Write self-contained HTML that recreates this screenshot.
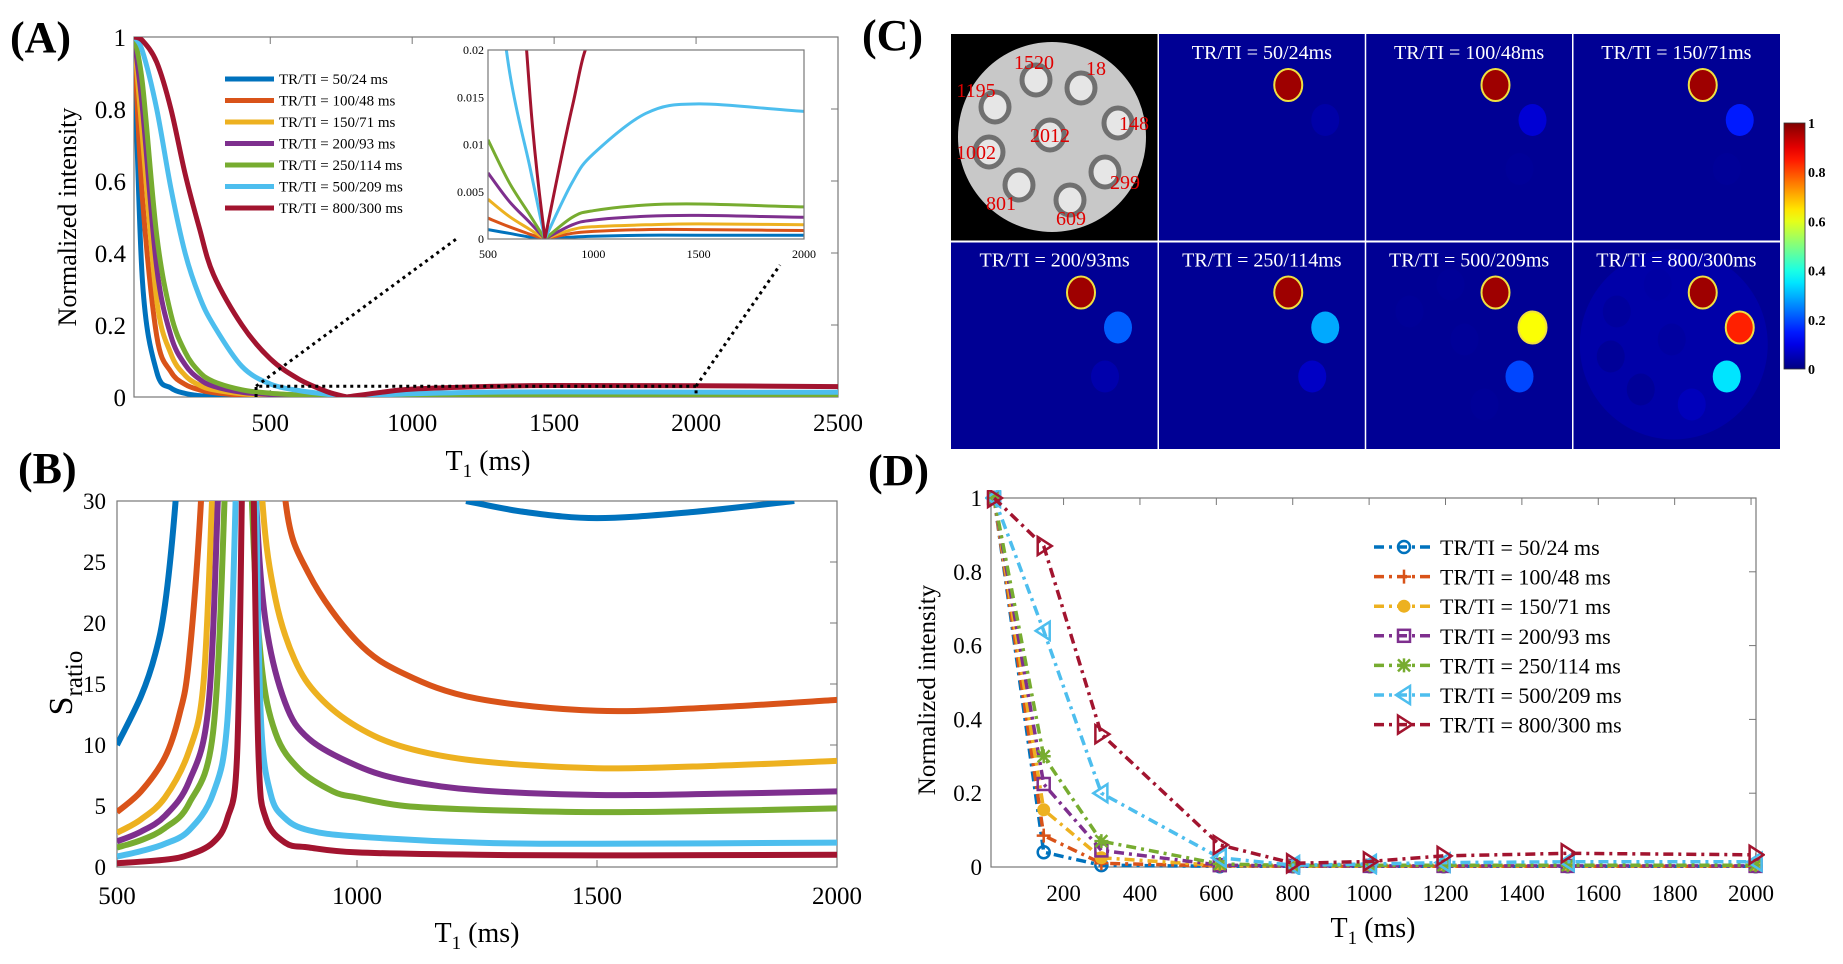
<!DOCTYPE html>
<html><head><meta charset="utf-8">
<style>
html,body{margin:0;padding:0;background:#fff;}
svg, svg text{font-family:"Liberation Serif","Times New Roman",serif;}
</style></head>
<body>
<svg id="fig" width="1843" height="959" viewBox="0 0 1843 959" font-family="Liberation Serif, serif" xmlns="http://www.w3.org/2000/svg">
<defs>
<clipPath id="clipA"><rect x="134" y="37" width="704" height="360"/></clipPath>
<clipPath id="clipIn"><rect x="488" y="50" width="316" height="189"/></clipPath>
<clipPath id="clipB"><rect x="117" y="501" width="720" height="366"/></clipPath>
<clipPath id="clipD"><rect x="985" y="490" width="780" height="385"/></clipPath>
</defs>
</svg>
<script>
// ---------- data ----------
const seriesNames = ["TR/TI = 50/24 ms","TR/TI = 100/48 ms","TR/TI = 150/71 ms","TR/TI = 200/93 ms","TR/TI = 250/114 ms","TR/TI = 500/209 ms","TR/TI = 800/300 ms"];
const seriesColors = ["#0072BD","#D95319","#EDB120","#7E2F8E","#77AC30","#4DBEEE","#A2142F"];
// Panel A (simulated curves)
const aT1 = [20,50,100,150,200,250,300,400,500,600,700,770,900,1000,1250,1500,2000,2500];
const aBlue   = [1,0.32,0.07,0.025,0.01,0.004,0.002,0.0012,0.001,0.0006,0.0002,0,0.0002,0.0003,0.0004,0.0004,0.0004,0.0004];
const aOrange = [1,0.55,0.17,0.07,0.035,0.02,0.012,0.005,0.0022,0.0013,0.0005,0,0.0006,0.0008,0.001,0.001,0.0009,0.0009];
const aYellow = [1,0.72,0.27,0.12,0.06,0.033,0.02,0.009,0.0042,0.0024,0.001,0,0.001,0.0013,0.0015,0.0016,0.0015,0.0014];
const aPurple = [1,0.8,0.36,0.17,0.09,0.05,0.03,0.013,0.007,0.004,0.0017,0,0.0015,0.002,0.0024,0.0025,0.0023,0.0022];
const aGreen  = [1,0.87,0.45,0.23,0.125,0.07,0.043,0.02,0.0105,0.006,0.0025,0,0.0023,0.003,0.0036,0.0037,0.0034,0.0032];
const aCyan   = [1,0.96,0.8,0.58,0.4,0.28,0.2,0.085,0.036,0.018,0.0075,0,0.006,0.009,0.0133,0.0143,0.0135,0.013];
const aRed    = [1,0.99,0.93,0.8,0.62,0.47,0.34,0.2,0.106,0.05,0.015,0,0.014,0.022,0.029,0.032,0.031,0.029];
const aSeries = [aBlue,aOrange,aYellow,aPurple,aGreen,aCyan,aRed];
const aXTicks = [500,1000,1500,2000,2500];
const aYTicks = [0,0.2,0.4,0.6,0.8,1];
const inXTicks = [500,1000,1500,2000];
const inYTicks = [0,0.005,0.01,0.015,0.02];
// Panel B (S_ratio), each branch: x and y arrays
const bBlueX1 = [500,550,580,600,620,640], bBlueY1 = [10,14,17.5,21.5,29,40];
const bBlueX2 = [1227,1350,1500,1700,1911], bBlueY2 = [30,29.1,28.6,29.1,30];
const bOrangeX1 = [500,550,600,630,650,675,690], bOrangeY1 = [4.5,6.2,9,12.5,17,30,45];
const bOrangeX2 = [835,851,900,1000,1100,1250,1500,1750,2000], bOrangeY2 = [45,30,24,18.5,15.8,13.8,12.8,13.1,13.7];
const bYellowX1 = [500,550,600,650,680,698,710], bYellowY1 = [2.8,3.9,5.7,9.5,15,30,45];
const bYellowX2 = [790,803,830,870,920,1000,1100,1250,1500,1750,2000], bYellowY2 = [45,30,22,17,14,11.5,9.8,8.7,8.1,8.3,8.7];
const bPurpleX1 = [500,550,600,650,690,710,720], bPurpleY1 = [2.1,2.9,4.2,7,13,30,45];
const bPurpleX2 = [780,790,810,850,900,1000,1100,1250,1500,1750,2000], bPurpleY2 = [45,30,20,13.5,10.5,8.3,7.1,6.3,5.9,6.0,6.2];
const bGreenX1 = [500,550,600,650,700,724,732], bGreenY1 = [1.6,2.2,3.2,5.2,11,30,45];
const bGreenX2 = [773,781,800,830,880,950,1000,1100,1250,1500,1750,2000], bGreenY2 = [45,30,17,11,8,6.2,5.7,5.0,4.7,4.5,4.6,4.8];
const bCyanX1 = [500,550,600,650,700,730,747,752], bCyanY1 = [0.85,1.3,1.9,3,6,12,30,45];
const bCyanX2 = [786,790,800,820,850,900,1000,1250,1500,2000], bCyanY2 = [45,30,12,6,4,3,2.5,2.0,1.9,2.0];
const bRedX1 = [500,600,650,700,730,750,760,764], bRedY1 = [0.3,0.6,1,2,4,9,30,45];
const bRedX2 = [781,785,795,810,850,900,1000,1250,1500,2000], bRedY2 = [45,30,9,4,2,1.6,1.2,1.0,0.95,1.0];
const bXTicks = [500,1000,1500,2000];
const bYTicks = [0,5,10,15,20,25,30];
// Panel D (measured)
const dT1 = [18,148,299,609,801,1002,1195,1520,2012];
const dBlue   = [1,0.04,0.005,0.002,0.002,0.002,0.002,0.002,0.002];
const dOrange = [1,0.085,0.01,0.003,0.002,0.002,0.002,0.002,0.002];
const dYellow = [1,0.155,0.025,0.004,0.002,0.003,0.003,0.003,0.003];
const dPurple = [1,0.225,0.045,0.005,0.003,0.003,0.003,0.003,0.003];
const dGreen  = [1,0.30,0.07,0.008,0.004,0.005,0.005,0.005,0.005];
const dCyan   = [1,0.64,0.20,0.025,0.005,0.008,0.012,0.014,0.014];
const dRed    = [1,0.87,0.36,0.06,0.01,0.015,0.03,0.037,0.033];
const dSeries = [dBlue,dOrange,dYellow,dPurple,dGreen,dCyan,dRed];
const dXTicks = [200,400,600,800,1000,1200,1400,1600,1800,2000];
const dYTicks = [0,0.2,0.4,0.6,0.8,1];
const cTitles = ["TR/TI = 50/24ms","TR/TI = 100/48ms","TR/TI = 150/71ms","TR/TI = 200/93ms","TR/TI = 250/114ms","TR/TI = 500/209ms","TR/TI = 800/300ms"];
const vialLabels = ["18","148","299","609","801","1002","1195","1520","2012"];
const cbTicks = [0,0.2,0.4,0.6,0.8,1];

// ---------- helpers ----------
const NS="http://www.w3.org/2000/svg";
const svg=document.getElementById('fig');
const FONT='Liberation Serif, Times New Roman, serif';
function mk(tag,attrs,parent){const e=document.createElementNS(NS,tag);for(const k in attrs)e.setAttribute(k,attrs[k]);(parent||svg).appendChild(e);return e;}
function txt(s,attrs,parent){attrs['font-family']=FONT;const e=mk('text',attrs,parent);e.textContent=s;return e;}
function scale(d0,d1,r0,r1){return v=>r0+(v-d0)/(d1-d0)*(r1-r0);}
function crPath(pts){
  if(pts.length<2)return '';
  let d='M'+pts[0][0].toFixed(1)+','+pts[0][1].toFixed(1);
  for(let i=0;i<pts.length-1;i++){
    const p0=pts[i-1]||pts[i],p1=pts[i],p2=pts[i+1],p3=pts[i+2]||p2;
    const c1=[p1[0]+(p2[0]-p0[0])/6,p1[1]+(p2[1]-p0[1])/6];
    const c2=[p2[0]-(p3[0]-p1[0])/6,p2[1]-(p3[1]-p1[1])/6];
    d+='C'+c1[0].toFixed(1)+','+c1[1].toFixed(1)+' '+c2[0].toFixed(1)+','+c2[1].toFixed(1)+' '+p2[0].toFixed(1)+','+p2[1].toFixed(1);
  }
  return d;
}
function cornerPath(pts,k){
  return crPath(pts.slice(0,k+1))+' '+crPath(pts.slice(k));
}
function jet(v){
  const c=x=>Math.max(0,Math.min(1,x));
  const r=c(1.5-Math.abs(4*v-3)),g=c(1.5-Math.abs(4*v-2)),b=c(1.5-Math.abs(4*v-1));
  return 'rgb('+Math.round(r*255)+','+Math.round(g*255)+','+Math.round(b*255)+')';
}
function axesBox(g,x0,x1,y0,y1,name){
  const r=mk('rect',{x:x0,y:y1,width:x1-x0,height:y0-y1,fill:'none',stroke:'#777','stroke-width':1.2},g);
  
  
}
function t1Label(x,y,g,name){
  const xl=mk('text',{x:x,y:y,'font-size':28,'text-anchor':'middle','font-family':FONT},g);
  xl.innerHTML='T<tspan font-size="19" dy="7">1</tspan><tspan dy="-7"> (ms)</tspan>';
  
  
}

// ---------- Panel labels ----------
[['(A)',10,52],['(B)',18,483],['(C)',862,50],['(D)',868,485]].forEach(p=>{
  const t=txt(p[0],{x:p[1],y:p[2],'font-size':44,'font-weight':'bold',fill:'#000'});
  
  
});

// ---------- Panel A ----------
(function(){
  const g=mk('g',{});
  
  
  const X=scale(20,2500,134,838),Y=scale(0,1,397,37);
  axesBox(g,134,838,397,37,'panel-a-axes');
  aXTicks.forEach(t=>{
    const l=mk('line',{x1:X(t),x2:X(t),y1:37,y2:44,stroke:'#777'},g);
    
    
    const l2=mk('line',{x1:X(t),x2:X(t),y1:397,y2:390,stroke:'#777'},g);
    
    
    const s=txt(String(t),{x:X(t),y:431,'font-size':25,'text-anchor':'middle'},g);
    
    
  });
  aYTicks.forEach(t=>{
    const l=mk('line',{x1:838,x2:831,y1:Y(t),y2:Y(t),stroke:'#777'},g);
    
    
    const s=txt(String(t),{x:126,y:Y(t)+9,'font-size':25,'text-anchor':'end'},g);
    
    
  });
  const yl=txt('Normalized intensity',{x:0,y:0,'font-size':26,'text-anchor':'middle',transform:'translate(76,217) rotate(-90)'},g);
  
  
  t1Label(488,470,g,'a-x-axis-title');
  const cg=mk('g',{'clip-path':'url(#clipA)'},g);
  const nullIdx=aT1.indexOf(770);
  aSeries.forEach((s,i)=>{
    const pts=aT1.map((t,j)=>[X(t),Y(s[j])]);
    const p=mk('path',{d:cornerPath(pts,nullIdx),fill:'none',stroke:seriesColors[i],'stroke-width':5,'stroke-linejoin':'round'},cg);
    
    
  });
  const zr=mk('path',{d:'M'+X(450)+','+Y(0)+' V'+Y(0.03)+' H'+X(2000)+' V'+Y(0),fill:'none',stroke:'#000','stroke-width':3,'stroke-dasharray':'3 4'},g);
  
  
  const c1=mk('line',{x1:X(450),y1:Y(0.03),x2:459,y2:237,stroke:'#000','stroke-width':3,'stroke-dasharray':'3 4'},g);
  
  
  const c2=mk('line',{x1:X(2000),y1:Y(0.03),x2:780,y2:265,stroke:'#000','stroke-width':3,'stroke-dasharray':'3 4'},g);
  
  
  seriesNames.forEach((n,i)=>{
    const y=79+i*21.5;
    const l=mk('line',{x1:225,x2:274,y1:y,y2:y,stroke:seriesColors[i],'stroke-width':5},g);
    
    
    const t=txt(n,{x:279,y:y+5,'font-size':15},g);
    
    
  });
  const IX=scale(500,2000,488,804),IY=scale(0,0.02,239,50);
  const bg=mk('rect',{x:488,y:50,width:316,height:189,fill:'#fff'},g);
  
  
  const ig=mk('g',{'clip-path':'url(#clipIn)'},g);
  aSeries.forEach((s,i)=>{
    const pts=[];aT1.forEach((t,j)=>{if(t>=500)pts.push([IX(t),IY(s[j])]);});
    const k=aT1.filter(t=>t>=500).indexOf(770);
    const p=mk('path',{d:cornerPath(pts,k),fill:'none',stroke:seriesColors[i],'stroke-width':3},ig);
    
    
  });
  axesBox(g,488,804,239,50,'inset-axes');
  inXTicks.forEach(t=>{
    const s=txt(String(t),{x:IX(t),y:258,'font-size':12,'text-anchor':'middle'},g);
    
    
  });
  inYTicks.forEach(t=>{
    const s=txt(String(t),{x:484,y:IY(t)+4,'font-size':12,'text-anchor':'end'},g);
    
    
  });
})();

// ---------- Panel B ----------
(function(){
  const g=mk('g',{});
  
  
  const X=scale(500,2000,117,837),Y=scale(0,30,867,501);
  axesBox(g,117,837,867,501,'panel-b-axes');
  bXTicks.forEach(t=>{
    const l=mk('line',{x1:X(t),x2:X(t),y1:867,y2:860,stroke:'#777'},g);
    
    
    const s=txt(String(t),{x:X(t),y:904,'font-size':25,'text-anchor':'middle'},g);
    
    
  });
  bYTicks.forEach(t=>{
    const l=mk('line',{x1:837,x2:830,y1:Y(t),y2:Y(t),stroke:'#777'},g);
    
    
    const s=txt(String(t),{x:106,y:Y(t)+8,'font-size':23,'text-anchor':'end'},g);
    
    
  });
  const yl=mk('text',{x:0,y:0,'font-size':34,'text-anchor':'middle','font-family':FONT,transform:'translate(72,683) rotate(-90)'},g);
  yl.innerHTML='S<tspan font-size="25" dy="10">ratio</tspan>';
  
  
  t1Label(477,942,g,'b-x-axis-title');
  const cg=mk('g',{'clip-path':'url(#clipB)'},g);
  const branches=[[bBlueX1,bBlueY1,bBlueX2,bBlueY2],[bOrangeX1,bOrangeY1,bOrangeX2,bOrangeY2],[bYellowX1,bYellowY1,bYellowX2,bYellowY2],[bPurpleX1,bPurpleY1,bPurpleX2,bPurpleY2],[bGreenX1,bGreenY1,bGreenX2,bGreenY2],[bCyanX1,bCyanY1,bCyanX2,bCyanY2],[bRedX1,bRedY1,bRedX2,bRedY2]];
  branches.forEach((b,i)=>{
    const p1=b[0].map((x,j)=>[X(x),Y(b[1][j])]);
    const p2=b[2].map((x,j)=>[X(x),Y(b[3][j])]);
    const p=mk('path',{d:crPath(p1)+' '+crPath(p2),fill:'none',stroke:seriesColors[i],'stroke-width':6,'stroke-linejoin':'round'},cg);
    
    
  });
})();

// ---------- Panel C ----------
(function(){
  const g=mk('g',{});
  
  
  const gx=951,gy=34,cw=207.25,ch=207.5;
  const vialPos=[[130,54],[167,89],[154,138],[119,166],[68,151],[38,118],[44,73],[85,46],[99,101]];
  const labelPos=[[145,34],[183,89],[174,148],[120,184],[50,169],[25,118],[25,56],[83,28],[99,101]];
  const bg0=mk('rect',{x:gx,y:gy,width:cw,height:ch,fill:'#000'},g);
  
  
  const disk=mk('ellipse',{cx:gx+101,cy:gy+103,rx:94,ry:95,fill:'#c8c8c8'},g);
  
  
  vialPos.forEach((p,i)=>{
    const c=mk('ellipse',{cx:gx+p[0],cy:gy+p[1],rx:14,ry:15,fill:'#e6e6e6',stroke:'#707070','stroke-width':5},g);
    
    
  });
  vialPos.forEach((p,i)=>{
    const t=txt(vialLabels[i],{x:gx+labelPos[i][0],y:gy+labelPos[i][1]+7,'font-size':20,fill:'#e00000','text-anchor':'middle'},g);
    
    
  });
  for(let k=0;k<7;k++){
    const idx=k+1,col=idx%4,row=Math.floor(idx/4);
    const x=gx+col*cw,y=gy+row*ch;
    const bgv=0.02;
    const r=mk('rect',{x:x,y:y,width:cw,height:ch,fill:jet(bgv)},g);
    
    
    const vals=dSeries[k];
    if(k===6){
      const d=mk('ellipse',{cx:x+101,cy:y+103,rx:94,ry:95,fill:jet(0.04)},g);
      
      
    }
    vialPos.forEach((p,i)=>{
      const v=vals[i];
      if(k<6 && v<0.01) return;
      const c=mk('ellipse',{cx:x+p[0],cy:y+p[1]-3,rx:14,ry:16,fill:jet(Math.max(v,0.025)*0.97),stroke:v>0.5?'#f0e040':'none','stroke-width':2},g);
      
      
    });
    const t=txt(cTitles[k],{x:x+cw/2,y:y+25,'font-size':20,fill:'#fff','text-anchor':'middle'},g);
    
    
  }
  for(let i=1;i<4;i++){
    const l=mk('line',{x1:gx+i*cw,x2:gx+i*cw,y1:gy,y2:gy+2*ch,stroke:'#fff','stroke-width':1.5},g);
    
    
  }
  const hl=mk('line',{x1:gx,x2:gx+4*cw,y1:gy+ch,y2:gy+ch,stroke:'#fff','stroke-width':2},g);
  
  
  const lg=mk('linearGradient',{id:'jetgrad',x1:0,y1:1,x2:0,y2:0},svg.querySelector('defs'));
  for(let i=0;i<=20;i++){mk('stop',{offset:(i/20),'stop-color':jet(i/20)},lg);}
  const cb=mk('rect',{x:1784,y:123,width:21,height:246,fill:'url(#jetgrad)',stroke:'#333','stroke-width':0.8},g);
  
  
  const CY=scale(0,1,369,123);
  cbTicks.forEach(t=>{
    const s=txt(String(t),{x:1808,y:CY(t)+5,'font-size':14,'font-weight':'bold'},g);
    
    
  });
})();

// ---------- Panel D ----------
(function(){
  const g=mk('g',{});
  
  
  const X=scale(10,2013,991,1756),Y=scale(0,1,867,498);
  axesBox(g,991,1756,867,498,'panel-d-axes');
  dXTicks.forEach(t=>{
    const l=mk('line',{x1:X(t),x2:X(t),y1:498,y2:505,stroke:'#777'},g);
    
    
    const s=txt(String(t),{x:X(t),y:901,'font-size':23,'text-anchor':'middle'},g);
    
    
  });
  dYTicks.forEach(t=>{
    const l=mk('line',{x1:1756,x2:1749,y1:Y(t),y2:Y(t),stroke:'#777'},g);
    
    
    const s=txt(String(t),{x:982,y:Y(t)+8,'font-size':23,'text-anchor':'end'},g);
    
    
  });
  const yl=txt('Normalized intensity',{x:0,y:0,'font-size':25,'text-anchor':'middle',transform:'translate(935,690) rotate(-90)'},g);
  
  
  t1Label(1373,937,g,'d-x-axis-title');
  function marker(i,x,y,parent){
    const c=seriesColors[i],sw=2.5;let m;
    if(i===0)m=mk('circle',{cx:x,cy:y,r:6,fill:'none',stroke:c,'stroke-width':sw},parent);
    else if(i===1)m=mk('path',{d:`M${x-7},${y}H${x+7}M${x},${y-7}V${y+7}`,stroke:c,'stroke-width':sw},parent);
    else if(i===2)m=mk('circle',{cx:x,cy:y,r:6,fill:c,stroke:c},parent);
    else if(i===3)m=mk('rect',{x:x-6,y:y-6,width:12,height:12,fill:'none',stroke:c,'stroke-width':sw},parent);
    else if(i===4)m=mk('path',{d:`M${x-6},${y-6}L${x+6},${y+6}M${x-6},${y+6}L${x+6},${y-6}M${x-7},${y}H${x+7}M${x},${y-7}V${y+7}`,stroke:c,'stroke-width':sw},parent);
    else if(i===5)m=mk('path',{d:`M${x-8},${y}L${x+6},${y-9}L${x+6},${y+9}Z`,fill:'none',stroke:c,'stroke-width':sw},parent);
    else m=mk('path',{d:`M${x+8},${y}L${x-6},${y-9}L${x-6},${y+9}Z`,fill:'none',stroke:c,'stroke-width':sw},parent);
    return m;
  }
  const cg=mk('g',{'clip-path':'url(#clipD)'},g);
  dSeries.forEach((s,i)=>{
    const pts=dT1.map((t,j)=>X(t).toFixed(1)+','+Y(s[j]).toFixed(1)).join(' ');
    const l=mk('polyline',{points:pts,fill:'none',stroke:seriesColors[i],'stroke-width':3.5,'stroke-dasharray':'10 5 3 5'},cg);
    
    
    dT1.forEach((t,j)=>{
      const m=marker(i,X(t),Y(s[j]),cg);
      
      
    });
  });
  seriesNames.forEach((n,i)=>{
    const y=547+i*29.6;
    const l=mk('line',{x1:1374,x2:1434,y1:y,y2:y,stroke:seriesColors[i],'stroke-width':3.5,'stroke-dasharray':'10 5 3 5'},g);
    
    
    const m=marker(i,1404,y,g);
    
    
    const t=txt(n,{x:1440,y:y+8,'font-size':22},g);
    
    
  });
})();
</script>
</body></html>
